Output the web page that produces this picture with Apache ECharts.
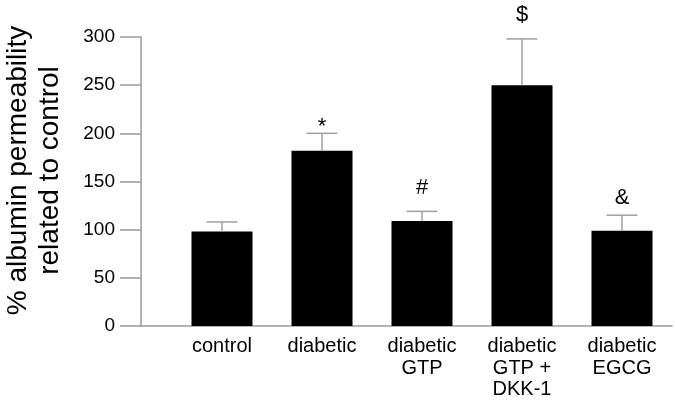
<!DOCTYPE html>
<html>
<head>
<meta charset="utf-8">
<script src="https://cdn.jsdelivr.net/npm/echarts@6/dist/echarts.min.js"></script>
<style>html,body{margin:0;padding:0;background:#fff;}#c{width:675px;height:401px;}</style>
</head>
<body>
<div id="c"></div>
<script>
var categories = ['control', 'diabetic', 'diabetic\nGTP', 'diabetic\nGTP +\nDKK-1', 'diabetic\nEGCG'];
var means = [98, 182, 109, 250, 99];
var errorTops = [108, 200, 119, 298, 115];
var marks = ['', '*', '#', '$', '&'];
var yTicks = [0, 50, 100, 150, 200, 250, 300];

var FONT = '"Liberation Sans", Arial, sans-serif';
var chart = echarts.init(document.getElementById('c'), null, {renderer: 'canvas'});

var errData = categories.map(function (c, i) { return [i, means[i], errorTops[i], marks[i]]; });
var markGap = {'*': -5, '#': 12, '$': 13, '&': 6, '': 0};

chart.setOption({
  animation: false,
  backgroundColor: '#fff',
  grid: [
    {left: 172, right: 3, top: 37, bottom: 75, containLabel: false, outerBoundsMode: 'none'},
    {left: 141, right: 3, top: 37, bottom: 75, containLabel: false, outerBoundsMode: 'none'}
  ],
  xAxis: [
    {
      type: 'category', gridIndex: 0, data: categories,
      axisLine: {show: false}, axisTick: {show: false},
      axisLabel: {color: '#000', fontFamily: FONT, fontSize: 20, lineHeight: 21.5, margin: 10, interval: 0}
    },
    {
      type: 'value', gridIndex: 1, min: 0, max: 1,
      axisLine: {show: true, lineStyle: {color: '#9a9a9a', width: 1.5}},
      axisTick: {show: false}, axisLabel: {show: false}, splitLine: {show: false}
    }
  ],
  yAxis: [
    {
      type: 'value', gridIndex: 0, min: yTicks[0], max: yTicks[yTicks.length - 1], interval: 50,
      show: false
    },
    {
      type: 'value', gridIndex: 1, min: yTicks[0], max: yTicks[yTicks.length - 1], interval: 50,
      axisLine: {show: true, lineStyle: {color: '#9a9a9a', width: 1.5}},
      axisTick: {show: true, inside: false, length: 21, lineStyle: {color: '#9a9a9a', width: 1.5}},
      axisLabel: {color: '#000', fontFamily: FONT, fontSize: 19, margin: 26},
      splitLine: {show: false},
      name: '% albumin permeability\nrelated to control',
      nameLocation: 'middle', nameGap: 75, nameRotate: 90,
      nameTextStyle: {color: '#000', fontFamily: FONT, fontSize: 28, lineHeight: 32, align: 'center', padding: [0, 0, 0, 22]}
    }
  ],
  series: [
    {
      type: 'bar', xAxisIndex: 0, yAxisIndex: 0, data: means,
      barWidth: 61, itemStyle: {color: '#000'}, z: 2
    },
    {
      type: 'custom', xAxisIndex: 0, yAxisIndex: 0, data: errData, z: 3,
      renderItem: function (params, api) {
        var i = api.value(0);
        var p0 = api.coord([i, api.value(1)]);
        var p1 = api.coord([i, api.value(2)]);
        var half = 15.5;
        var style = {stroke: '#a0a0a0', lineWidth: 1.5};
        return {
          type: 'group',
          children: [
            {type: 'line', shape: {x1: p0[0], y1: p0[1], x2: p1[0], y2: p1[1]}, style: style},
            {type: 'line', shape: {x1: p1[0] - half, y1: p1[1], x2: p1[0] + half, y2: p1[1]}, style: style},
            {type: 'text', style: {
              text: marks[i], x: p1[0], y: p1[1] - markGap[marks[i]],
              textAlign: 'center', textVerticalAlign: 'bottom',
              fill: '#000', font: '22px ' + FONT
            }}
          ]
        };
      }
    }
  ]
});
</script>
</body>
</html>
